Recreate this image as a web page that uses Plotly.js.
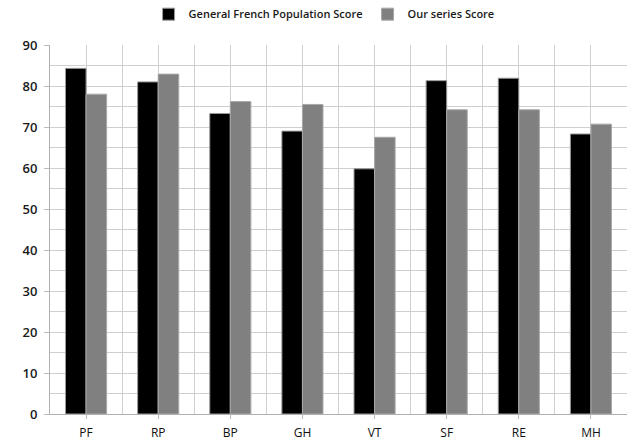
<!DOCTYPE html>
<html>
<head>
<meta charset="utf-8">
<script src="https://cdn.plot.ly/plotly-3.0.1.min.js"></script>
<style>html,body{margin:0;padding:0;background:#fff;}#chart{width:633px;height:441px;}</style>
</head>
<body>
<div id="chart"></div>
<script>
const categories = ["PF", "RP", "BP", "GH", "VT", "SF", "RE", "MH"];
const frenchScore = [84.3, 81.0, 73.3, 69.0, 59.8, 81.3, 81.9, 68.3];
const seriesScore = [78.0, 82.9, 76.2, 75.5, 67.5, 74.2, 74.2, 70.7];
const seriesNames = ["General French Population Score", "Our series Score"];
const yTicks = [0, 10, 20, 30, 40, 50, 60, 70, 80, 90];

const xIdx = categories.map((c, i) => i);

const traces = [
  {type: "bar", name: seriesNames[0], x: xIdx, y: frenchScore,
   marker: {color: "#000000", line: {color: "#9a9a9a", width: 1}}},
  {type: "bar", name: seriesNames[1], x: xIdx, y: seriesScore,
   marker: {color: "#808080", line: {color: "#a8a8a8", width: 1}}}
];

const gridColor = "#cfcfcf";
const layout = {
  width: 633, height: 441,
  margin: {l: 50, r: 6, t: 45, b: 27},
  paper_bgcolor: "#fff", plot_bgcolor: "#fff",
  barmode: "group", bargap: 0.43, bargroupgap: 0,
  font: {family: "Open Sans, sans-serif", color: "#1a1a1a", size: 12},
  showlegend: true,
  legend: {orientation: "h", x: 0.475, xanchor: "center", y: 0.935, yanchor: "bottom",
           yref: "container",
           font: {size: 11, weight: 600, color: "#1a1a1a"}, traceorder: "normal",
           itemwidth: 30},
  xaxis: {
    range: [-0.5, 7.5], tickmode: "array", tickvals: xIdx, ticktext: categories,
    showgrid: true, gridcolor: gridColor, gridwidth: 1,
    minor: {tickmode: "linear", tick0: -0.5, dtick: 1, showgrid: true, gridcolor: gridColor, gridwidth: 1},
    ticks: "outside", ticklen: 4, tickcolor: "#bbbbbb",
    showline: true, linecolor: "#b0b0b0", linewidth: 1,
    zeroline: false, fixedrange: true,
    tickfont: {size: 12, color: "#111111"}, ticklabelstandoff: 4
  },
  yaxis: {
    range: [0, 90], tickmode: "array", tickvals: yTicks,
    showgrid: true, gridcolor: gridColor, gridwidth: 1,
    minor: {tickmode: "linear", tick0: 0, dtick: 5, showgrid: true, gridcolor: gridColor, gridwidth: 1},
    ticks: "outside", ticklen: 5, tickcolor: "#bbbbbb",
    showline: true, linecolor: "#b0b0b0", linewidth: 1,
    zeroline: false, fixedrange: true,
    tickfont: {size: 13, color: "#1a1a1a", weight: 600}, ticklabelstandoff: 4
  }
};
Plotly.newPlot("chart", traces, layout, {displayModeBar: false, staticPlot: true});
</script>
</body>
</html>
